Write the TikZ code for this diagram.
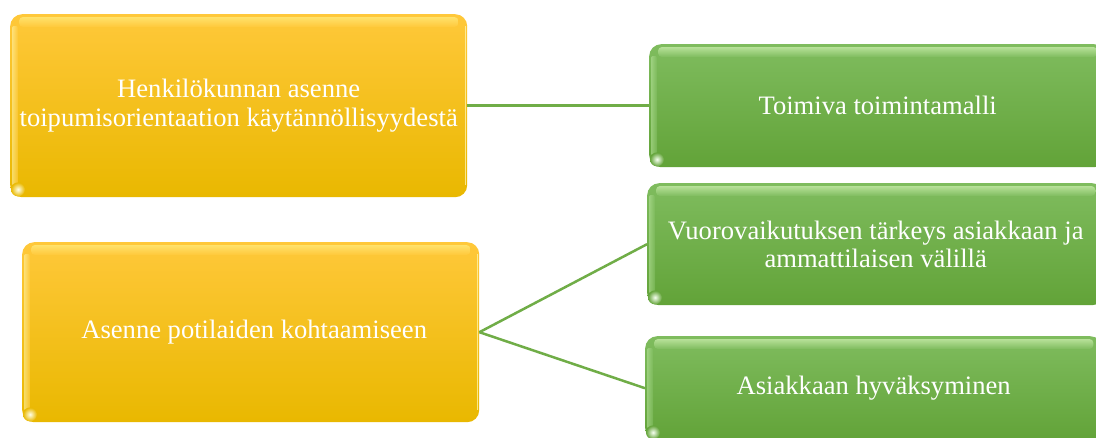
\documentclass[tikz,border=0pt]{standalone}
\usepackage{fontspec}
\setmainfont{Liberation Serif}
\usetikzlibrary{calc}
\definecolor{yTop}{HTML}{FFC83A}
\definecolor{yMid}{HTML}{FFC20A}
\definecolor{yBot}{HTML}{E9B800}
\definecolor{yHi}{HTML}{FFF38C}
\definecolor{yEdge}{HTML}{FFF3A8}
\definecolor{yGlow}{HTML}{FFFFE8}
\definecolor{gTop}{HTML}{7FBC5E}
\definecolor{gMid}{HTML}{6DAF48}
\definecolor{gBot}{HTML}{62A338}
\definecolor{gHi}{HTML}{DDFAC0}
\definecolor{gEdge}{HTML}{B5E29A}
\definecolor{gGlow}{HTML}{F6FFF0}
\definecolor{conn}{HTML}{70AD47}
\newcommand\bevelbox[6]{% name, highlight, top, bottom, edge, glow
  \shade[top color=#2!60!#3, middle color=#2, bottom color=#3, rounded corners=4pt]
    ([xshift=9pt,yshift=-3pt]#1.north west) rectangle ([xshift=-9pt,yshift=-13pt]#1.north east);
  \shade[left color=#5, right color=#3, opacity=0.6, rounded corners=2pt]
    ([xshift=2pt,yshift=-12pt]#1.north west) rectangle ([xshift=8pt,yshift=12pt]#1.south west);
  \draw[#5, line width=1.5pt, opacity=0.8]
    ([xshift=-2pt,yshift=-12pt]#1.north east) -- ([xshift=-2pt,yshift=12pt]#1.south east);
  \shade[inner color=#6, outer color=#4]
    ([xshift=8pt,yshift=8pt]#1.south west) circle (7pt);
}
\begin{document}
\begin{tikzpicture}[x=1pt,y=-1pt,
  box/.style={rounded corners=12pt, anchor=north west, inner sep=0pt,
    align=center, text=white, font=\fontsize{26.6}{28.5}\selectfont},
  ybox/.style={box, top color=yTop, middle color=yMid, bottom color=yBot},
  gbox/.style={box, top color=gTop, middle color=gMid, bottom color=gBot},
  link/.style={conn, line width=2.5pt}]
\useasboundingbox (0,0) rectangle (1096,437);
\clip (0,0) rectangle (1096,437);
\fill[white] (0,0) rectangle (1096,437);

\node[ybox, minimum width=457pt, minimum height=183pt] (b1) at (10,14)
  {Henkilökunnan asenne\\toipumisorientaation käytännöllisyydestä};
\node[gbox, minimum width=457pt, minimum height=123pt] (b2) at (649,44)
  {Toimiva toimintamalli};
\node[ybox, minimum width=457pt, minimum height=180pt] (b3) at (22,242)
  {\hspace*{7pt}Asenne potilaiden kohtaamiseen};
\node[gbox, minimum width=457pt, minimum height=122pt] (b4) at (647,183)
  {Vuorovaikutuksen tärkeys asiakkaan ja\\ammattilaisen välillä};
\node[gbox, minimum width=457pt, minimum height=104pt] (b5) at (645,336)
  {Asiakkaan hyväksyminen};

\bevelbox{b1}{yHi}{yTop}{yBot}{yEdge}{yGlow}
\bevelbox{b3}{yHi}{yTop}{yBot}{yEdge}{yGlow}
\bevelbox{b2}{gHi}{gTop}{gBot}{gEdge}{gGlow}
\bevelbox{b4}{gHi}{gTop}{gBot}{gEdge}{gGlow}
\bevelbox{b5}{gHi}{gTop}{gBot}{gEdge}{gGlow}

\draw[link] (b1.east) -- (b2.west);
\draw[link] (b3.east) -- (b4.west);
\draw[link] (b3.east) -- (b5.west);
\end{tikzpicture}
\end{document}
